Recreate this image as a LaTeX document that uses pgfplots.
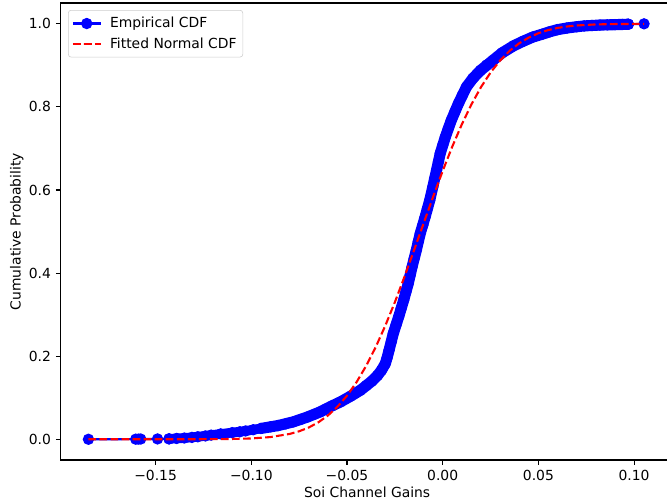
\documentclass[border=0pt]{standalone}
\usepackage{pgfplots}
\pgfplotsset{compat=1.18}
\usepackage{fontspec}
\setmainfont{DejaVu Sans}
\pgfplotstableread{
x y
-0.143 0.001
-0.139 0.002
-0.135 0.003
-0.131 0.0045
-0.128 0.006
-0.124 0.008
-0.121 0.010
-0.116 0.013
-0.110 0.016
-0.106 0.018
-0.103 0.020
-0.099 0.023
-0.095 0.026
-0.090 0.030
-0.086 0.033
-0.082 0.037
-0.078 0.042
-0.074 0.048
-0.071 0.053
-0.067 0.060
-0.064 0.066
-0.061 0.073
-0.058 0.080
-0.0534 0.090
-0.048 0.104
-0.043 0.118
-0.040 0.129
-0.037 0.140
-0.034 0.154
-0.032 0.166
-0.030 0.182
-0.029 0.197
-0.028 0.215
-0.0268 0.235
-0.0258 0.255
-0.0244 0.275
-0.023 0.295
-0.0217 0.315
-0.0204 0.335
-0.0192 0.355
-0.018 0.375
-0.017 0.395
-0.016 0.415
-0.0149 0.435
-0.0138 0.455
-0.0128 0.476
-0.0117 0.496
-0.0104 0.515
-0.0092 0.535
-0.0080 0.555
-0.0068 0.575
-0.0052 0.607
-0.0042 0.628
-0.0032 0.648
-0.0022 0.668
-0.0013 0.688
0.0000 0.708
0.0014 0.728
0.0029 0.748
0.0045 0.768
0.0063 0.788
0.0082 0.808
0.0102 0.828
0.0124 0.848
0.0158 0.869
0.0198 0.888
0.0230 0.901
0.0262 0.912
0.031 0.930
0.037 0.947
0.042 0.958
0.047 0.968
0.052 0.975
0.056 0.981
0.060 0.986
0.065 0.990
0.070 0.993
0.074 0.995
0.078 0.996
0.082 0.997
0.086 0.9975
0.090 0.998
0.094 0.9985
0.097 0.999
}\ecdf
\begin{document}
\begin{tikzpicture}
\begin{axis}[
  at={(0,0)}, anchor=south west,
  scale only axis,
  width=441.2pt, height=329.0pt,
  xmin=-0.1996, xmax=0.1206,
  ymin=-0.05, ymax=1.05,
  clip marker paths=true,
  xtick={-0.15,-0.10,-0.05,0.00,0.05,0.10},
  xticklabels={−0.15,−0.10,−0.05,0.00,0.05,0.10},
  ytick={0,0.2,0.4,0.6,0.8,1.0},
  yticklabels={0.0,0.2,0.4,0.6,0.8,1.0},
  tick align=outside,
  major tick length=3.5pt,
  xtick pos=bottom, ytick pos=left,
  tick style={black, line width=0.8pt},
  axis line style={black, line width=0.8pt},
  xlabel={Soi Channel Gains},
  ylabel={Cumulative Probability},
  xlabel style={yshift=2pt},
  ylabel style={yshift=-3pt},
  legend style={at={(0,1)}, anchor=north west, xshift=5.3pt, yshift=-5pt,
    draw=black!20, rounded corners=2pt, font=\normalsize,
    inner xsep=2.5pt, inner ysep=3pt, row sep=1.5pt, column sep=4pt},
  legend cell align=left,
  legend image code/.code={\draw[mark repeat=2,mark phase=2] plot coordinates {(0pt,0pt) (10pt,0pt) (20pt,0pt)};},
]
\addlegendimage{blue, line width=1.5pt, mark=*, mark size=3.3pt, mark options={draw=none, fill=blue}}
\addlegendentry{Empirical CDF}

% empirical CDF: sparse tail, thin line with markers
\addplot[blue, line width=1.5pt, mark=*, mark size=3.3pt, mark options={draw=none, fill=blue}, forget plot] coordinates {
(-0.1851,0.0000) (-0.1604,0.0002) (-0.1590,0.0004) (-0.1578,0.0006) (-0.1490,0.0008) (-0.143,0.001)
};
\addplot[blue, line width=1.5pt, mark=*, mark size=3.3pt, mark options={draw=none, fill=blue}, forget plot] table {\ecdf};
\addplot[blue, line width=1.5pt, mark=*, mark size=3.3pt, mark options={draw=none, fill=blue}, forget plot] coordinates {
(0.097,0.999) (0.1052,1.000)
};
% dense band of the empirical CDF, widening where the points are densest
\addplot[blue, line width=7pt, line join=round, line cap=round, forget plot] coordinates {
(-0.143,0.001) (-0.135,0.003) (-0.128,0.006) (-0.121,0.010) (-0.110,0.016) (-0.103,0.020)
(-0.095,0.026) (-0.086,0.033) (-0.078,0.042)
};
\addplot[blue, line width=8pt, line join=round, line cap=round, forget plot] coordinates {
(-0.095,0.026) (-0.086,0.033) (-0.078,0.042) (-0.071,0.053) (-0.064,0.066) (-0.058,0.080)
(-0.0534,0.090) (-0.048,0.104) (-0.043,0.118) (-0.040,0.129) (-0.037,0.140) (-0.034,0.154)
(-0.032,0.166) (-0.030,0.182)
(-0.029,0.197) (-0.028,0.215) (-0.0258,0.255) (-0.023,0.295) (-0.0204,0.335) (-0.018,0.375)
(-0.016,0.415) (-0.0138,0.455) (-0.0117,0.496) (-0.0092,0.535) (-0.0068,0.575) (-0.0052,0.607)
(-0.0032,0.648) (-0.0013,0.688) (0.0014,0.728) (0.0045,0.768) (0.0082,0.808) (0.0124,0.848)
(0.0158,0.869) (0.0198,0.888) (0.0262,0.912) (0.031,0.930) (0.037,0.947) (0.042,0.958)
(0.047,0.968) (0.052,0.975) (0.056,0.981) (0.060,0.986) (0.065,0.990) (0.070,0.993)
(0.074,0.995) (0.082,0.997) (0.090,0.998) (0.097,0.999)
};
% fitted normal CDF
\addplot[red, line width=1.5pt, dash pattern=on 5.55pt off 2.4pt] coordinates {
(-0.1851,0.0000) (-0.16,0.0000) (-0.14,0.00001) (-0.12,0.0002) (-0.11,0.0007) (-0.10,0.0020)
(-0.09,0.0053) (-0.08,0.0128) (-0.075,0.0192) (-0.07,0.0283) (-0.065,0.0407) (-0.06,0.0571)
(-0.055,0.0782) (-0.05,0.1049) (-0.045,0.1376) (-0.04,0.1767) (-0.035,0.2220) (-0.03,0.2734)
(-0.025,0.3300) (-0.02,0.3909) (-0.015,0.4546) (-0.01,0.5195) (-0.005,0.5838) (0.0,0.6460)
(0.005,0.7045) (0.01,0.7581) (0.015,0.8060) (0.02,0.8476) (0.025,0.8828) (0.03,0.9118)
(0.035,0.9351) (0.04,0.9533) (0.045,0.9671) (0.05,0.9774) (0.055,0.9848) (0.06,0.9901)
(0.065,0.9936) (0.07,0.9960) (0.08,0.9986) (0.09,0.9995) (0.1052,0.9999)
};
\addlegendentry{Fitted Normal CDF}
\end{axis}
\pgfresetboundingbox
\useasboundingbox (-43.7pt,-30.96pt) rectangle (436.5pt,331.2pt);
\end{tikzpicture}
\end{document}
